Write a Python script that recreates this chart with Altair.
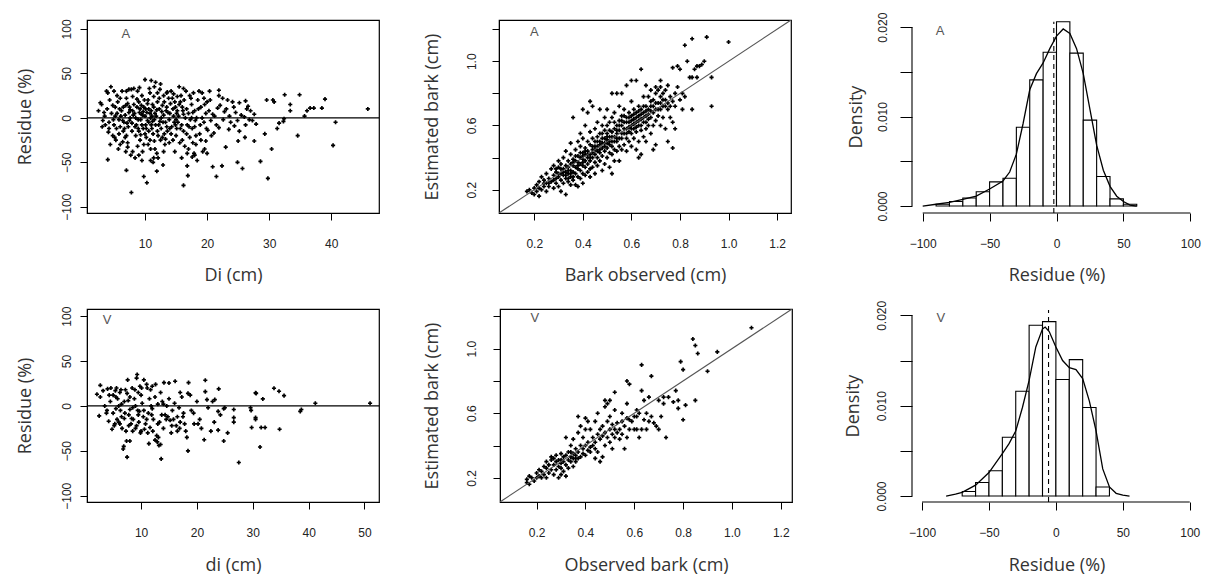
import altair as alt
import pandas as pd

# ---------------- data ----------------
A_RESID = [
    (4.0,-47),(7.0,-59),(7.8,-84),(9.8,-66),(10.3,-73),(11.3,-50),(11.9,-60),(12.9,-53),(16.2,-76),(16.9,-65),
    (16.8,-54),(17.6,-44),(18.0,-42),(20.9,-55),(21.5,-66),(22.4,-54),(23.0,-33),(24.9,-50),(25.7,-57),(25.0,-26),
    (26.1,-22),(27.6,-26),(28.6,-49),(29.3,-18),(29.8,-68),(30.4,-35),(31.3,-12),(31.6,-6),(32.4,-1),(32.5,26),
    (33.4,15),(33.4,8),(34.6,-20),(34.9,26),(35.7,2),(36.1,8),(36.6,11),(37.2,11),(38.5,11),(39.0,21),
    (40.3,-31),(40.7,-5),(45.9,10),(30.8,18),(30.6,20),(29.6,20),(32.3,-4),
    (20.4,30),(21.9,31),(21.9,25),(23.3,20),(24.1,18),(24.3,12),(25.2,17),(26.2,19),(26.6,13),(27.0,8),
    (27.6,4),(27.9,-7),(26.8,-2),(26.0,1),(24.9,-3),(24.4,-9),(23.6,2),(22.8,7),(21.7,11),(20.9,4),
    (20.6,-3),(20.1,-14),(19.8,-26),(19.6,-35),(21.1,-17),(21.9,-11),(23.5,-13),(25.2,-15),(26.2,-8),
    (2.5,8),(3.0,15),(3.2,-3),(3.5,2),(3.8,30),(4.0,28),(4.2,-12),(4.5,35),(4.3,20),(4.8,-20),
    (4.6,5),(5.0,-8),(5.2,12),(5.5,25),(5.3,-25),(5.8,-2),(5.6,18),(6.0,-30),(6.2,8),(6.5,-15),
    (6.3,30),(6.8,3),(6.6,-5),(7.0,22),(7.2,-28),(7.5,12),(7.3,-10),(7.8,32),(7.6,0),(8.0,-38),
    (8.2,15),(8.5,-20),(8.3,5),(8.8,30),(8.6,-8),(9.0,-42),(9.2,10),(9.5,25),(9.3,-2),(9.8,-30),
    (9.6,3),(10.0,43),(10.2,-12),(10.5,20),(10.3,6),(10.8,-25),(10.6,-5),(11.0,42),(11.2,15),(11.5,35),
    (11.3,-18),(11.8,2),(11.6,-35),(12.0,28),(12.2,-8),(12.5,38),(12.3,10),(12.8,-22),(12.6,0),(13.0,25),
    (13.2,-30),(13.5,12),(13.3,-5),(13.8,22),(13.6,-15),(14.0,5),(14.2,30),(14.5,-25),(14.3,-10),(14.8,18),
    (14.6,2),(15.0,-20),(15.2,8),(15.5,35),(15.3,-5),(15.8,25),(15.6,-28),(16.0,12),(16.2,-15),(16.5,0),
    (16.3,20),(16.8,-8),(16.6,30),(17.0,5),(17.2,-22),(17.5,15),(17.3,-2),(17.8,28),(17.6,-12),(18.0,8),
    (18.2,-30),(18.5,20),(18.3,0),(18.8,-18),(19.0,12),(19.2,28),(19.5,-5),(19.8,5),(20.0,18),
    (5.5,5),(6.0,-10),(6.5,12),(7.0,-20),(7.5,-3),(8.0,8),(8.5,0),(9.0,-15),(9.0,18),(9.5,-8),
    (10.0,2),(10.0,-18),(10.5,-30),(11.0,8),(11.0,-8),(11.5,-2),(12.0,-15),(12.0,18),(12.5,-25),(13.0,3),
    (13.5,28),(14.0,-12),(14.5,10),(15.0,-2),(15.5,15),(16.0,-25),(17.0,-35),(17.5,0),(18.0,-10),(19.0,-25),
    (8.0,24),(9.2,-25),(10.8,28),(7.2,16),(6.8,-22),(5.8,-18),(4.8,14),(4.2,-5),(3.6,-8),(9.8,12),
    (10.4,-3),(11.4,24),(12.7,7),(13.1,-18),(14.1,16),(15.1,5),(16.1,8),(9.6,-38),(8.8,-32),(7.7,-42),
    (11.9,-40),(13.9,-28),(15.9,-45),(12.1,-45),(10.9,-48),(8.4,-45),(7.2,-33),(6.4,-27),(5.1,-22),(4.1,-16),
    (3.4,6),(2.8,17),(9.1,34),(10.7,33),(11.7,40),(8.2,33),(7.4,32),(12.4,32),(13.6,29),(14.6,27),
    (16.2,33),(17.2,25),(18.7,30),(19.3,-38),(18.4,-48),(17.9,-40),
    (6.1,2),(7.9,-6),(8.7,12),(9.4,4),(10.1,-8),(10.9,0),(11.1,-12),(12.4,-4),(8.9,-12),(9.7,7),
    (10.6,10),(11.6,5),(7.4,6),(6.7,-12),(5.4,-12),(14.9,-8),(13.4,8),(15.7,-12),(16.7,-18),(17.7,6),
    (5.2,2),(5.9,10),(6.4,-3),(6.9,14),(7.1,-6),(7.6,9),(7.9,-15),(8.1,3),(8.4,-10),(8.7,21),
    (8.9,-2),(9.1,6),(9.3,-19),(9.4,14),(9.7,-12),(9.9,20),(10.1,10),(10.2,-22),(10.4,16),(10.6,-15),
    (10.8,5),(10.9,-35),(11.1,2),(11.2,-4),(11.4,12),(11.5,-26),(11.7,-8),(11.9,9),(12.1,-20),(12.3,22),
    (12.6,-12),(12.8,14),(12.9,-5),(13.1,18),(13.3,-24),(13.5,-10),(13.7,6),(13.9,-2),(14.2,-18),(14.4,22),
    (14.7,-5),(14.9,12),(15.1,-12),(15.4,2),(15.7,18),(15.9,-8),(16.2,4),(16.4,-32),(16.7,10),(17.1,-10),
    (17.4,22),(17.7,-28),(18.1,-3),(18.6,10),(18.9,-8),(19.2,0),(19.6,15),(19.9,-12),(20.3,8),(20.7,-20),
    (21.2,2),(21.5,-8),(22.1,14),(22.6,-2),(23.1,10),(23.8,-5),(24.6,6),(25.5,3),(26.4,10),(27.3,-3),
    (6.0,22),(7.0,30),(5.0,30),(4.4,-30),(5.7,-35),(6.9,-38),(3.9,10),(3.1,-10),(4.9,-2),(20.5,20),
    (22.5,22),(19.5,22),(18.2,-20),(16.8,-40),(14.8,-38),(13.0,-38),(11.4,-45),(20.0,-40),(15.2,24),(9.5,-48),
]

A_BARK = [
    (0.17,0.19),(0.18,0.2),(0.19,0.18),(0.2,0.21),(0.2,0.17),(0.21,0.23),(0.21,0.19),(0.22,0.16),(0.22,0.25),(0.23,0.2),
    (0.23,0.28),(0.24,0.22),(0.24,0.26),(0.25,0.19),(0.25,0.24),(0.25,0.3),(0.26,0.22),(0.26,0.27),
    (0.27,0.25),(0.27,0.33),(0.28,0.21),(0.28,0.29),(0.28,0.35),(0.29,0.24),(0.29,0.27),(0.29,0.31),(0.3,0.22),(0.3,0.28),
    (0.3,0.34),(0.3,0.38),(0.31,0.19),(0.31,0.26),(0.31,0.3),(0.31,0.36),(0.32,0.24),(0.32,0.29),(0.32,0.33),(0.32,0.4),
    (0.33,0.17),(0.33,0.27),(0.33,0.31),(0.33,0.35),(0.33,0.44),(0.34,0.25),(0.34,0.3),(0.34,0.34),(0.34,0.38),(0.35,0.23),
    (0.35,0.28),(0.35,0.32),(0.35,0.36),(0.35,0.42),(0.35,0.49),
    (0.36,0.26),(0.36,0.31),(0.36,0.35),(0.36,0.39),(0.36,0.65),(0.37,0.23),(0.37,0.3),(0.37,0.34),(0.37,0.38),(0.37,0.45),
    (0.38,0.22),(0.38,0.28),(0.38,0.33),(0.38,0.37),(0.38,0.41),(0.38,0.5),(0.39,0.27),(0.39,0.32),(0.39,0.36),(0.39,0.4),
    (0.39,0.47),(0.39,0.55),(0.4,0.24),(0.4,0.3),(0.4,0.35),(0.4,0.39),(0.4,0.43),(0.4,0.52),(0.4,0.7),(0.41,0.29),
    (0.41,0.34),(0.41,0.38),(0.41,0.42),(0.41,0.46),(0.41,0.6),(0.42,0.31),(0.42,0.36),(0.42,0.4),(0.42,0.44),(0.42,0.5),
    (0.42,0.68),(0.43,0.28),(0.43,0.33),(0.43,0.38),(0.43,0.42),(0.43,0.48),(0.43,0.56),(0.43,0.75),(0.44,0.34),(0.44,0.4),
    (0.44,0.45),(0.44,0.52),(0.44,0.72),(0.45,0.3),(0.45,0.37),(0.45,0.42),(0.45,0.47),(0.45,0.58),
    (0.46,0.35),(0.46,0.4),(0.46,0.44),(0.46,0.5),(0.46,0.62),(0.47,0.38),(0.47,0.43),(0.47,0.48),(0.47,0.55),(0.47,0.7),
    (0.48,0.32),(0.48,0.41),(0.48,0.46),(0.48,0.52),(0.48,0.6),(0.49,0.36),(0.49,0.44),(0.49,0.49),(0.49,0.57),(0.49,0.65),
    (0.5,0.4),(0.5,0.46),(0.5,0.51),(0.5,0.55),(0.5,0.7),(0.51,0.34),(0.51,0.43),(0.51,0.48),(0.51,0.53),(0.51,0.62),
    (0.52,0.3),(0.52,0.42),(0.52,0.5),(0.52,0.56),(0.52,0.65),(0.52,0.8),(0.53,0.38),(0.53,0.45),(0.53,0.53),(0.53,0.58),
    (0.53,0.68),(0.54,0.44),(0.54,0.5),(0.54,0.55),(0.54,0.6),(0.54,0.8),(0.55,0.38),(0.55,0.47),(0.55,0.57),(0.55,0.63),
    (0.55,0.72),
    (0.56,0.45),(0.56,0.52),(0.56,0.6),(0.56,0.66),(0.56,0.8),(0.57,0.48),(0.57,0.55),(0.57,0.62),(0.57,0.7),(0.58,0.44),
    (0.58,0.52),(0.58,0.58),(0.58,0.65),(0.58,0.85),(0.59,0.5),(0.59,0.56),(0.59,0.62),(0.59,0.68),(0.6,0.47),(0.6,0.55),
    (0.6,0.6),(0.6,0.66),(0.6,0.75),(0.6,0.88),(0.61,0.52),(0.61,0.58),(0.61,0.64),(0.61,0.7),(0.62,0.45),(0.62,0.56),
    (0.62,0.62),(0.62,0.68),(0.62,0.88),(0.63,0.5),(0.63,0.6),(0.63,0.66),(0.63,0.72),(0.63,0.4),(0.64,0.42),(0.64,0.57),
    (0.64,0.64),(0.64,0.7),(0.64,0.95),(0.65,0.53),(0.65,0.62),(0.65,0.68),(0.65,0.78),
    (0.66,0.5),(0.66,0.58),(0.66,0.66),(0.66,0.72),(0.66,0.85),(0.67,0.6),(0.67,0.64),(0.67,0.7),(0.67,0.78),(0.68,0.55),
    (0.68,0.65),(0.68,0.72),(0.68,0.82),(0.69,0.45),(0.69,0.6),(0.69,0.68),(0.69,0.76),(0.7,0.48),(0.7,0.63),(0.7,0.7),
    (0.7,0.8),(0.7,0.84),(0.71,0.66),(0.71,0.74),(0.71,0.82),(0.72,0.6),(0.72,0.7),(0.72,0.78),(0.72,0.84),(0.72,0.88),
    (0.73,0.65),(0.73,0.72),(0.73,0.8),(0.74,0.58),(0.74,0.76),(0.74,0.82),(0.75,0.5),(0.75,0.7),(0.75,0.74),(0.75,0.85),
    (0.76,0.65),(0.76,0.78),(0.77,0.46),(0.77,0.62),(0.77,0.96),(0.78,0.58),(0.78,0.72),(0.78,0.8),(0.79,0.97),(0.79,0.84),
    (0.8,0.95),(0.8,0.76),(0.81,0.7),(0.81,0.8),(0.82,0.78),(0.82,1.1),(0.83,1.0),(0.84,0.9),(0.85,0.7),(0.85,1.14),
    (0.86,0.95),(0.87,0.9),(0.88,0.97),(0.89,0.98),(0.9,1.0),(0.91,1.15),(0.93,0.9),(0.93,0.72),(1.0,1.12),(0.87,0.97),
    (0.85,0.9),
    (0.3,0.3),(0.32,0.31),(0.34,0.32),(0.36,0.37),(0.38,0.35),(0.4,0.41),(0.4,0.37),(0.41,0.44),(0.42,0.42),(0.43,0.4),
    (0.44,0.43),(0.44,0.47),(0.45,0.45),(0.45,0.5),(0.46,0.47),(0.46,0.53),(0.47,0.45),(0.47,0.5),(0.48,0.49),(0.48,0.55),
    (0.49,0.47),(0.49,0.52),(0.5,0.49),(0.5,0.53),(0.5,0.6),(0.51,0.5),(0.51,0.57),(0.52,0.47),(0.52,0.53),(0.53,0.5),
    (0.53,0.62),(0.54,0.52),(0.54,0.57),(0.55,0.52),(0.55,0.6),(0.56,0.55),(0.56,0.63),(0.57,0.58),(0.57,0.66),(0.58,0.55),
    (0.58,0.62),(0.59,0.59),(0.59,0.65),(0.6,0.58),(0.6,0.63),(0.61,0.61),(0.61,0.67),(0.62,0.59),(0.62,0.65),(0.63,0.63),
    (0.63,0.69),(0.64,0.6),(0.64,0.67),(0.65,0.65),(0.65,0.72),(0.66,0.62),(0.66,0.69),(0.67,0.67),(0.68,0.69),(0.68,0.75),
    (0.69,0.72),(0.7,0.74),(0.71,0.7),(0.72,0.74),(0.73,0.76),(0.74,0.72),(0.76,0.72),(0.77,0.75),(0.28,0.26),(0.26,0.24),
    (0.24,0.24),(0.29,0.33),(0.31,0.33),(0.33,0.29),(0.35,0.3),(0.37,0.41),(0.39,0.43),(0.36,0.28),(0.34,0.27),(0.22,0.21),
]

V_RESID = [
    (2.7,23),(2.1,13),(2.7,10),(2.5,-11),(3.2,17),(3.5,0),(3.8,-8),(4.0,19),(4.2,-17),(4.5,5),
    (4.8,-26),(4.6,20),(5.0,12),(5.2,-22),(5.4,17),(5.5,-3),(5.6,20),(5.8,8),(6.0,-18),(6.2,15),
    (6.3,-5),(6.5,2),(6.6,-25),(6.8,-48),(6.9,-45),(7.0,-14),(7.2,18),(7.3,-28),(7.5,-57),(7.4,-39),
    (7.6,29),(7.7,6),(7.8,-10),(8.0,-39),(8.0,10),(8.2,-20),(8.4,20),(8.5,-2),(8.6,-15),(8.8,8),
    (9.0,-25),(9.2,31),(9.3,35),(9.4,-5),(9.5,15),(9.6,-18),(9.8,22),(10.0,-28),(10.2,3),(10.5,29),
    (10.4,-12),(10.8,-20),(11.0,24),(11.1,20),(11.3,-8),(11.4,-42),(11.6,-24),(11.8,0),(12.0,22),(12.2,-15),
    (12.5,-38),(12.6,24),(12.8,-33),(13.0,2),(13.1,-35),(13.3,-18),(13.5,-43),(13.6,-59),(13.8,5),(14.0,-25),
    (14.1,26),(14.3,-10),(14.6,0),(15.0,25.6),(15.2,-16),(15.4,-30),(15.6,-5),(16.1,27.5),(16.3,-22),(16.5,-12),
    (16.8,-2),(17.0,-18),(17.3,10),(17.6,-8),(18.0,-28),(18.2,-35),(18.5,26),(18.4,-50),(18.8,12),(19.0,-5),
    (19.5,-20),(20.0,5),(20.5,-15),(21.3,-37.6),(21.5,28.6),(21.5,16),(22.0,-2),(22.5,-28),(23.1,-18),(23.9,19),
    (23.8,-6),(23.8,-27),(24.8,-39),(24.8,-3),(25.0,-2),(26.6,-4),(26.6,-13),(26.6,-18),(27.5,-63),(29.6,-2),
    (29.7,-5),(29.8,-24),(30.5,-13),(30.5,-15),(30.5,14.5),(30.6,14),(31.3,-45.7),(31.5,-24),(32.2,-24),(31.8,7.8),
    (33.8,19.7),(34.7,16.4),(35.6,11.5),(34.8,-26),(38.5,-6),(38.7,-4),(41.2,3),(51.0,3),(18.4,14),
    (5.0,-8),(5.5,10),(6.0,0),(6.5,-12),(7.0,5),(7.5,14),(8.0,-4),(8.5,-28),(9.0,0),(9.5,-10),
    (10.0,12),(10.5,-5),(11.0,-15),(11.5,8),(12.0,-3),(12.5,10),(13.0,-20),(13.5,15),(14.0,2),(14.5,-15),
    (15.0,8),(15.5,-22),(16.0,3),(16.5,-28),(17.0,15),(17.5,-12),(6.2,-20),(7.8,-22),(9.2,-22),(10.6,-26),
    (12.1,-28),(13.7,-10),(15.8,-15),(8.9,18),(10.1,20),(11.7,18),(7.1,-8),(5.7,-15),(4.3,12),(3.9,-5),
    (12.9,-40),(13.2,-44),(11.2,-30),(9.9,-30),(16.9,-25),(17.8,-20),(19.4,-8),(20.8,-25),(22.8,5),(21.8,7),
    (23.2,7),(24.2,-10),(25.5,-30),(20.2,-20),(5.3,-20),(6.4,18),(8.3,-14),(9.7,-6),(11.9,-10),(14.8,-12),
]

V_BARK = [
    (0.16,0.17),(0.16,0.19),(0.17,0.16),(0.17,0.21),(0.18,0.2),(0.19,0.18),(0.2,0.2),(0.2,0.23),(0.21,0.21),(0.21,0.25),
    (0.22,0.2),(0.22,0.24),(0.23,0.22),(0.23,0.27),(0.24,0.2),(0.24,0.26),(0.24,0.3),(0.25,0.23),(0.25,0.28),(0.26,0.25),
    (0.26,0.31),(0.26,0.33),(0.27,0.22),(0.27,0.28),(0.27,0.32),(0.28,0.25),(0.28,0.3),(0.28,0.34),(0.29,0.2),(0.29,0.27),
    (0.29,0.31),(0.3,0.22),(0.3,0.29),(0.3,0.35),(0.3,0.26),(0.31,0.24),(0.31,0.3),(0.31,0.33),(0.32,0.21),(0.32,0.28),
    (0.32,0.34),(0.32,0.45),(0.33,0.26),(0.33,0.31),(0.33,0.36),(0.34,0.3),(0.34,0.33),(0.34,0.4),(0.35,0.27),(0.35,0.32),
    (0.35,0.35),(0.35,0.44),(0.36,0.3),(0.36,0.34),(0.36,0.38),(0.37,0.32),(0.37,0.36),(0.37,0.48),(0.37,0.58),(0.38,0.33),
    (0.38,0.4),(0.38,0.52),(0.39,0.35),(0.39,0.38),(0.39,0.45),(0.4,0.34),(0.4,0.4),(0.4,0.5),(0.4,0.57),(0.41,0.37),
    (0.41,0.42),(0.41,0.55),(0.42,0.36),(0.42,0.39),(0.42,0.5),(0.43,0.4),(0.43,0.45),(0.44,0.32),(0.44,0.38),(0.44,0.42),
    (0.44,0.55),(0.45,0.36),(0.45,0.47),(0.45,0.6),(0.46,0.3),(0.46,0.44),(0.46,0.5),(0.47,0.33),(0.47,0.46),(0.47,0.52),
    (0.48,0.4),(0.48,0.48),(0.48,0.64),(0.48,0.68),(0.49,0.45),(0.49,0.55),(0.49,0.66),(0.5,0.42),(0.5,0.5),(0.5,0.58),
    (0.5,0.68),(0.51,0.38),(0.51,0.47),(0.51,0.53),(0.52,0.45),(0.52,0.5),(0.52,0.62),(0.52,0.73),(0.53,0.48),(0.53,0.54),
    (0.54,0.44),(0.54,0.5),(0.55,0.47),(0.55,0.55),(0.55,0.6),(0.56,0.38),(0.56,0.52),(0.57,0.45),(0.57,0.57),(0.57,0.66),
    (0.57,0.8),(0.58,0.5),(0.58,0.56),(0.58,0.78),(0.59,0.55),(0.6,0.5),(0.6,0.58),(0.61,0.5),(0.61,0.62),(0.62,0.45),
    (0.62,0.6),(0.63,0.5),(0.63,0.74),(0.63,0.9),(0.64,0.56),(0.64,0.68),(0.65,0.6),(0.65,0.5),(0.66,0.55),(0.66,0.7),
    (0.67,0.58),(0.67,0.83),(0.68,0.54),(0.69,0.52),(0.7,0.5),(0.7,0.68),(0.71,0.58),(0.72,0.66),(0.72,0.7),(0.73,0.45),
    (0.74,0.7),(0.77,0.74),(0.78,0.68),(0.79,0.92),(0.78,0.63),(0.8,0.56),(0.8,0.87),(0.81,0.65),(0.84,1.06),(0.85,1.02),
    (0.86,0.97),(0.85,0.68),(0.9,0.86),(0.94,0.98),(1.08,1.13),(0.76,0.67),(0.61,0.58),(0.34,0.36),(0.36,0.32),(0.3,0.31),
]

# histogram bins (start, density), width 10
A_BIN_START = [-90, -80, -70, -60, -50, -40, -30, -20, -10, 0, 10, 20, 30, 40, 50]
A_BIN_DENS = [0.0002, 0.0005, 0.0009, 0.0016, 0.0027, 0.0031, 0.0088, 0.0141, 0.0172, 0.0206, 0.0171, 0.0096, 0.0033, 0.0008, 0.0002]
V_BIN_START = [-70, -60, -50, -40, -30, -20, -10, 0, 10, 20, 30]
V_BIN_DENS = [0.0005, 0.0015, 0.0028, 0.0065, 0.0116, 0.0189, 0.0193, 0.0129, 0.0151, 0.0098, 0.0010]

# kernel density curves
A_DENS_X = [-100, -90, -80, -70, -60, -50, -40, -35, -30, -25, -20, -15, -10, -5, 0, 5, 10, 15, 20, 25, 30, 35, 40, 45, 50, 55, 60]
A_DENS_Y = [0.0000, 0.0002, 0.0004, 0.00075, 0.0011, 0.0019, 0.0028, 0.0038, 0.0058, 0.0092, 0.0130, 0.0148, 0.0160, 0.0176, 0.0190, 0.0198, 0.0193, 0.0176, 0.0148, 0.0108, 0.0068, 0.0040, 0.0022, 0.0011, 0.0005, 0.0001, 0.0000]
V_DENS_X = [-82, -75, -70, -60, -50, -40, -35, -30, -25, -20, -15, -10, -8, -5, 0, 5, 10, 15, 20, 25, 30, 35, 40, 45, 50, 55]
V_DENS_Y = [0.0000, 0.0002, 0.0004, 0.0012, 0.0026, 0.0047, 0.0058, 0.0072, 0.0098, 0.0128, 0.0165, 0.0185, 0.0187, 0.0182, 0.0165, 0.0150, 0.0142, 0.0140, 0.0130, 0.0105, 0.0072, 0.0030, 0.0010, 0.0003, 0.0001, 0.0000]

A_MEAN = -2.0
V_MEAN = -5.5

RES_Y_TICKS = [-100, -50, 0, 50, 100]
A_DI_TICKS = [10, 20, 30, 40]
V_DI_TICKS = [10, 20, 30, 40, 50]
BARK_TICKS = [0.2, 0.4, 0.6, 0.8, 1.0, 1.2]
HIST_X_TICKS = [-100, -50, 0, 50, 100]
HIST_Y_TICKS = [0.0, 0.005, 0.010, 0.015, 0.020]

# ---------------- styling ----------------
TITLE_FONT = "Open Sans"
TICK_FONT = "Liberation Sans"
TITLE_SIZE = 18
LABEL_SIZE = 12
TITLE_COLOR = "#333333"
LABEL_COLOR = "#222222"
W, H = 292, 193
HW = 289
Y_EXT = 36
X_EXT = 36
TOP_XT_PAD = 17
BOT_XT_PAD = 18


def x_axis(values, title, tick=7, label_pad=18, title_pad=TOP_XT_PAD, fmt=None, domain=True):
    kw = dict(values=values, title=title, grid=False, tickSize=tick, tickColor="black",
              domain=domain, domainColor="black", labelFont=TICK_FONT, labelFontSize=LABEL_SIZE,
              labelColor=LABEL_COLOR, labelPadding=label_pad, titleFont=TITLE_FONT, titleFontSize=TITLE_SIZE,
              titleFontWeight="normal", titleColor=TITLE_COLOR, titlePadding=title_pad,
              labelFlush=False, labelOverlap=False, minExtent=X_EXT, maxExtent=X_EXT)
    if fmt:
        kw["format"] = fmt
    return alt.Axis(**kw)


def y_axis(values, title, tick=7, label_pad=7, title_pad=18, expr=None, domain=True):
    kw = dict(values=values, title=title, grid=False, tickSize=tick, tickColor="black",
              domain=domain, domainColor="black", labelFont=TICK_FONT, labelFontSize=LABEL_SIZE,
              labelColor=LABEL_COLOR, labelAngle=270, labelAlign="center", labelBaseline="bottom",
              labelPadding=label_pad, titleFont=TITLE_FONT, titleFontSize=TITLE_SIZE,
              titleFontWeight="normal", titleColor=TITLE_COLOR, titlePadding=title_pad,
              labelFlush=False, labelOverlap=False, minExtent=Y_EXT, maxExtent=Y_EXT)
    if expr:
        kw["labelExpr"] = expr
    return alt.Axis(**kw)


def letter_layer(letter, lx, ly, xsc, ysc, xa, ya):
    df = pd.DataFrame({"x": [lx], "y": [ly], "t": [letter]})
    return alt.Chart(df).mark_text(font=TICK_FONT, fontSize=13, color="#555555").encode(
        x=alt.X("x:Q", scale=xsc, axis=xa), y=alt.Y("y:Q", scale=ysc, axis=ya), text="t:N")


def scatter_panel(pts, xdom, ydom, xa, ya, letter, lx, ly, zero=False, diag=False):
    df = pd.DataFrame(pts, columns=["x", "y"])
    xsc = alt.Scale(domain=xdom, nice=False, zero=False)
    ysc = alt.Scale(domain=ydom, nice=False, zero=False)
    layers = []
    layers.append(alt.Chart(df).mark_point(shape="cross", filled=True, size=17, color="black", opacity=1).encode(
        x=alt.X("x:Q", scale=xsc, axis=xa), y=alt.Y("y:Q", scale=ysc, axis=ya)))
    if zero:
        zdf = pd.DataFrame({"y": [0]})
        layers.append(alt.Chart(zdf).mark_rule(color="black", strokeWidth=1.2).encode(
            y=alt.Y("y:Q", scale=ysc, axis=ya)))
    if diag:
        ddf = pd.DataFrame({"x": [xdom[0], xdom[1]], "y": [xdom[0], xdom[1]]})
        layers.append(alt.Chart(ddf).mark_line(color="#555555", strokeWidth=1.1, clip=True).encode(
            x=alt.X("x:Q", scale=xsc, axis=xa), y=alt.Y("y:Q", scale=ysc, axis=ya)))
    layers.append(letter_layer(letter, lx, ly, xsc, ysc, xa, ya))
    return alt.layer(*layers).properties(
        width=W, height=H, view=alt.ViewBackground(stroke="black", strokeWidth=1.2))


def hist_panel(starts, dens, dx, dy, mean, xdom, ydom, letter, lx, ly, label_pad, title_pad, xt_pad):
    bars = pd.DataFrame({"x": starts, "e": [s + 10 for s in starts], "y": dens, "b": [0] * len(starts)})
    cdf = pd.DataFrame({"x": dx, "y": dy})
    mdf = pd.DataFrame({"x": [mean], "y": [ydom[0]], "y1": [0.0206]})
    ydf = pd.DataFrame({"y": [HIST_Y_TICKS[0]], "y1": [HIST_Y_TICKS[-1]]})
    xdf = pd.DataFrame({"x": [HIST_X_TICKS[0]], "x1": [HIST_X_TICKS[-1]]})
    xsc = alt.Scale(domain=xdom, nice=False, zero=False)
    ysc = alt.Scale(domain=ydom, nice=False, zero=False)
    xa = x_axis(HIST_X_TICKS, "Residue (%)", tick=8, label_pad=17, title_pad=xt_pad, domain=False)
    ya = y_axis(HIST_Y_TICKS, "Density", tick=12, label_pad=label_pad, title_pad=title_pad, domain=False,
                expr="round(datum.value*1000) % 10 == 0 ? format(datum.value, '.3f') : ''")
    bar_l = alt.Chart(bars).mark_rect(fill="white", stroke="black", strokeWidth=1.1).encode(
        x=alt.X("x:Q", scale=xsc, axis=xa), x2="e:Q",
        y=alt.Y("y:Q", scale=ysc, axis=ya), y2="b:Q")
    curve = alt.Chart(cdf).mark_line(color="black", strokeWidth=1.3).encode(
        x=alt.X("x:Q", scale=xsc, axis=xa), y=alt.Y("y:Q", scale=ysc, axis=ya))
    mean_l = alt.Chart(mdf).mark_rule(color="black", strokeWidth=1.1, strokeDash=[5, 4]).encode(
        x=alt.X("x:Q", scale=xsc, axis=xa), y=alt.Y("y:Q", scale=ysc, axis=ya), y2="y1:Q")
    yline = alt.Chart(ydf).mark_rule(color="black", strokeWidth=1.1).encode(
        x=alt.value(0), y=alt.Y("y:Q", scale=ysc, axis=ya), y2="y1:Q")
    xline = alt.Chart(xdf).mark_rule(color="black", strokeWidth=1.1).encode(
        y=alt.value(H), x=alt.X("x:Q", scale=xsc, axis=xa), x2="x1:Q")
    return alt.layer(bar_l, curve, mean_l, yline, xline,
                     letter_layer(letter, lx, ly, xsc, ysc, xa, ya)).properties(
        width=HW, height=H, view=alt.ViewBackground(stroke="transparent"))


bark_expr = "round(datum.value*10) % 4 == 2 ? format(datum.value, '.1f') : ''"

p1 = scatter_panel(A_RESID, [0.65, 47.7], [-107, 110],
                   x_axis(A_DI_TICKS, "Di (cm)"),
                   y_axis(RES_Y_TICKS, "Residue (%)", label_pad=7, title_pad=17),
                   "A", 6.9, 94, zero=True)
p2 = scatter_panel(A_BARK, [0.055, 1.257], [0.055, 1.257],
                   x_axis(BARK_TICKS, "Bark observed (cm)", fmt=".1f"),
                   y_axis(BARK_TICKS, "Estimated bark (cm)", label_pad=14, title_pad=22, expr=bark_expr),
                   "A", 0.2, 1.18, diag=True)
p3 = hist_panel(A_BIN_START, A_BIN_DENS, A_DENS_X, A_DENS_Y, A_MEAN, [-108, 108], [-0.00078, 0.0208],
                "A", -87, 0.0196, label_pad=11, title_pad=11, xt_pad=TOP_XT_PAD)

p4 = scatter_panel(V_RESID, [0.32, 52.6], [-107, 108],
                   x_axis(V_DI_TICKS, "di (cm)", title_pad=BOT_XT_PAD),
                   y_axis(RES_Y_TICKS, "Residue (%)", label_pad=7, title_pad=17),
                   "V", 3.9, 96, zero=True)
p5 = scatter_panel(V_BARK, [0.05, 1.246], [0.05, 1.246],
                   x_axis(BARK_TICKS, "Observed bark (cm)", fmt=".1f", title_pad=BOT_XT_PAD),
                   y_axis(BARK_TICKS, "Estimated bark (cm)", label_pad=15, title_pad=23, expr=bark_expr),
                   "V", 0.193, 1.19, diag=True)
p6 = hist_panel(V_BIN_START, V_BIN_DENS, V_DENS_X, V_DENS_Y, V_MEAN, [-107.5, 108.4], [-0.00066, 0.0207],
                "V", -86, 0.0197, label_pad=12, title_pad=14, xt_pad=BOT_XT_PAD)

row1 = alt.hconcat(alt.hconcat(p1, p2, spacing=41), p3, spacing=54)
row2 = alt.hconcat(alt.hconcat(p4, p5, spacing=41), p6, spacing=50)
chart = alt.vconcat(row1, row2, spacing=14).properties(
    padding={"left": 7, "top": 3, "right": 0, "bottom": 0}
).configure(background="white").configure_view(stroke="transparent")

chart.save("out.html", embed_options={"renderer": "svg", "actions": False})
